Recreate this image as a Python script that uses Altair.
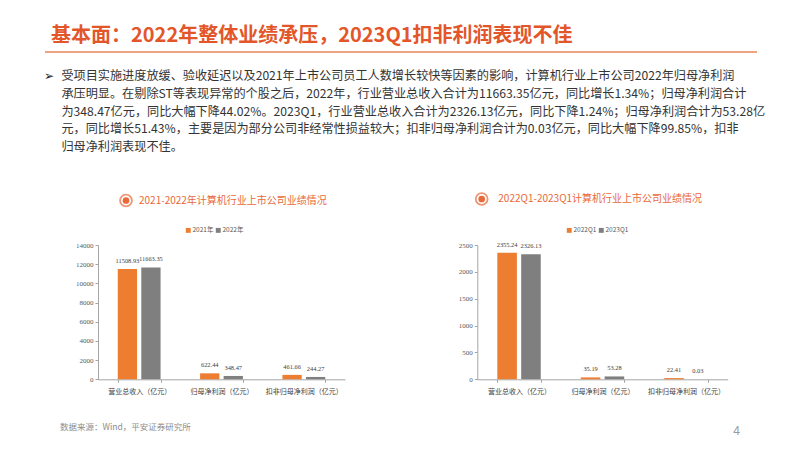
import altair as alt
import pandas as pd

# ---------------- data ----------------
title_text = "基本面：2022年整体业绩承压，2023Q1扣非利润表现不佳"
bullet = "➢"
para_lines = [
    "受项目实施进度放缓、验收延迟以及2021年上市公司员工人数增长较快等因素的影响，计算机行业上市公司2022年归母净利润",
    "承压明显。在剔除ST等表现异常的个股之后，2022年，行业营业总收入合计为11663.35亿元，同比增长1.34%；归母净利润合计",
    "为348.47亿元，同比大幅下降44.02%。2023Q1，行业营业总收入合计为2326.13亿元，同比下降1.24%；归母净利润合计为53.28亿",
    "元，同比增长51.43%，主要是因为部分公司非经常性损益较大；扣非归母净利润合计为0.03亿元，同比大幅下降99.85%，扣非",
    "归母净利润表现不佳。",
]
sub_left = "2021-2022年计算机行业上市公司业绩情况"
sub_right = "2022Q1-2023Q1计算机行业上市公司业绩情况"
categories = ["营业总收入（亿元）", "归母净利润（亿元）", "扣非归母净利润（亿元）"]

left_series = ["2021年", "2022年"]
left_2021 = [11508.93, 622.44, 461.66]
left_2022 = [11663.35, 348.47, 244.27]
left_ticks = [0, 2000, 4000, 6000, 8000, 10000, 12000, 14000]

right_series = ["2022Q1", "2023Q1"]
right_2022q1 = [2355.24, 35.19, 22.41]
right_2023q1 = [2326.13, 53.28, 0.03]
right_ticks = [0, 500, 1000, 1500, 2000, 2500]

source_text = "数据来源：Wind，平安证券研究所"
page_no = "4"

# ---------------- style ----------------
W, H = 786, 435
ORANGE = "#ED7D31"
GRAY = "#7F7F7F"
TITLE_C = "#E2562A"
SUB_C = "#E8693A"
CJK = "Noto Sans CJK SC"
SERIF = "Liberation Serif"
BASE_Y = 371.3
TOP_Y = 237


def text_layer(t, x, y, size, color, weight="normal", font=CJK, align="left"):
    return alt.Chart(pd.DataFrame({"t": [t]})).mark_text(
        align=align, baseline="middle", fontSize=size, color=color,
        fontWeight=weight, font=font
    ).encode(text="t:N", x=alt.value(x), y=alt.value(y))


def panel(series, v1, v2, xrange, ydomain, yticks, legend_x):
    df = pd.DataFrame({
        "cat": categories * 2,
        "series": [series[0]] * 3 + [series[1]] * 3,
        "value": v1 + v2,
    })
    xenc = alt.X(
        "cat:N", sort=categories,
        scale=alt.Scale(range=xrange, paddingInner=0.48, paddingOuter=0.24),
        axis=alt.Axis(orient="bottom", title=None, labelAngle=0, offset=BASE_Y - H,
                      tickBand="extent", tickSize=3, domainColor="#A6A6A6",
                      tickColor="#A6A6A6", labelFont=CJK, labelFontSize=7,
                      labelColor="#404040", labelPadding=5),
    )
    yenc = alt.Y(
        "value:Q",
        scale=alt.Scale(domain=ydomain, range=[BASE_Y, TOP_Y], nice=False, zero=True),
        axis=alt.Axis(orient="left", title=None, values=yticks, format="d",
                      offset=-xrange[0], grid=False, tickSize=3,
                      domainColor="#A6A6A6", tickColor="#A6A6A6",
                      labelFont=SERIF, labelFontSize=7, labelColor="#595959",
                      labelPadding=2),
    )
    xoff = alt.XOffset("series:N", sort=series, scale=alt.Scale(paddingInner=0.18))
    color = alt.Color(
        "series:N", sort=series,
        scale=alt.Scale(domain=series, range=[ORANGE, GRAY]),
        legend=alt.Legend(orient="none", legendX=legend_x, legendY=219,
                          direction="horizontal", title=None, symbolType="square",
                          symbolSize=24, symbolStrokeWidth=0, labelFontSize=6.5,
                          labelFont=CJK, labelColor="#595959", columnPadding=1,
                          labelOffset=1, padding=0),
    )
    bars = alt.Chart(df).mark_bar().encode(x=xenc, y=yenc, xOffset=xoff, color=color)
    labels = alt.Chart(df).mark_text(
        dy=-8, baseline="middle", fontSize=6.4, font=SERIF, color="#404040"
    ).encode(
        x=alt.X("cat:N", sort=categories),
        y="value:Q",
        xOffset=alt.XOffset("series:N", sort=series),
        text=alt.Text("value:Q", format=".2f"),
    )
    return alt.layer(bars, labels)


# ---------------- decorations ----------------
decor = [
    text_layer(title_text, 43, 28, 20, TITLE_C, weight="bold"),
    alt.Chart(pd.DataFrame({"a": [0]})).mark_rule(color="#E8845A", strokeWidth=1.5).encode(
        x=alt.value(37), x2=alt.value(749), y=alt.value(44)),
    text_layer(bullet, 36, 68, 12, "#222222", font="DejaVu Sans"),
]
para_y = [67.7, 85.6, 103.5, 121.4, 139.3]
for line, yy in zip(para_lines, para_y):
    decor.append(text_layer(line, 53.4, yy, 12.15, "#333333"))

for (cx, cy, st, tx) in [(118, 192.5, sub_left, 131), (473.7, 191, sub_right, 490.3)]:
    decor.append(alt.Chart(pd.DataFrame({"a": [0]})).mark_point(
        shape="circle", filled=False, color=SUB_C, strokeWidth=1.8, size=140
    ).encode(x=alt.value(cx), y=alt.value(cy)))
    decor.append(alt.Chart(pd.DataFrame({"a": [0]})).mark_circle(
        color=SUB_C, opacity=1, size=45
    ).encode(x=alt.value(cx), y=alt.value(cy)))
    decor.append(text_layer(st, tx, cy, 10, SUB_C))

decor.append(text_layer(source_text, 52, 418.7, 8.5, "#8C8C8C"))
decor.append(text_layer(page_no, 728.6, 422.7, 12, "#999999", font="Liberation Sans",
                        align="center"))

left = panel(left_series, left_2021, left_2022, [90, 337], [0, 14000], left_ticks, 177)
right = panel(right_series, right_2022q1, right_2023q1, [469.3, 719.7], [0, 2500],
              right_ticks, 558)

chart = alt.layer(*decor, left, right).resolve_scale(
    x="independent", y="independent", xOffset="independent", color="independent"
).properties(width=W, height=H, padding=0).configure_view(stroke="transparent")

chart.save("out.html", embed_options={"renderer": "svg", "actions": False})
